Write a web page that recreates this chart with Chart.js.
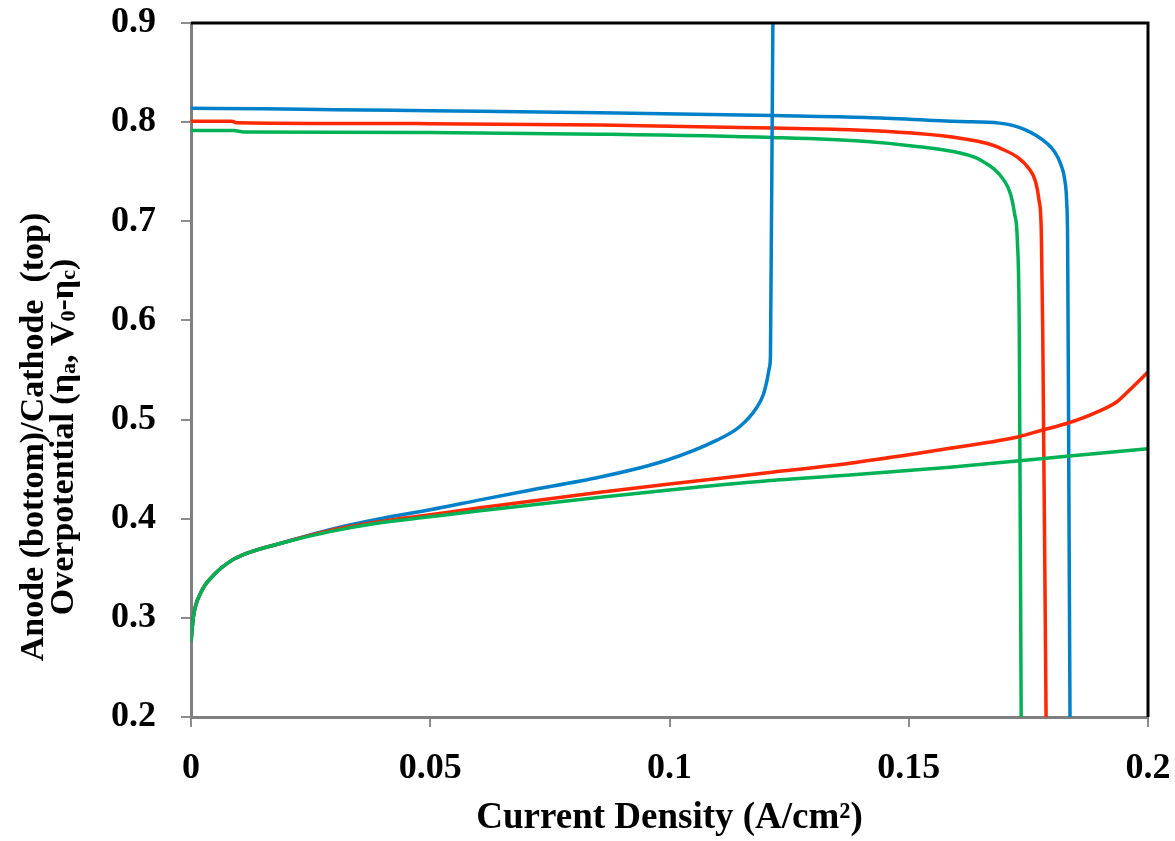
<!DOCTYPE html>
<html>
<head>
<meta charset="utf-8">
<script src="https://cdn.jsdelivr.net/npm/chart.js@4"></script>
<style>
  html, body { margin: 0; padding: 0; background: #fff; }
  #wrap { width: 1175px; height: 841px; }
</style>
</head>
<body>
<div id="wrap"><canvas id="myChart" width="1175" height="841"></canvas></div>
<script>
// tick labels
const xTicks = [0, 0.05, 0.1, 0.15, 0.2];
const yTicks = [0.2, 0.3, 0.4, 0.5, 0.6, 0.7, 0.8, 0.9];

// anode (bottom) curves
const blueAnodeX = [0, 0.0005, 0.002, 0.0047, 0.0082, 0.0116, 0.0186, 0.029, 0.0395, 0.05, 0.0604, 0.07, 0.0855, 0.0994, 0.1098, 0.1147, 0.1182, 0.1196, 0.1204, 0.1209, 0.1211, 0.1216, 0.1218];
const blueAnodeY = [0.276, 0.301, 0.325, 0.343, 0.357, 0.365, 0.375, 0.389, 0.400, 0.409, 0.419, 0.428, 0.442, 0.459, 0.479, 0.493, 0.512, 0.525, 0.540, 0.553, 0.565, 0.90, 0.93];

const redAnodeX = [0, 0.0005, 0.002, 0.0047, 0.0082, 0.0116, 0.0186, 0.029, 0.0395, 0.05, 0.0604, 0.0855, 0.1, 0.12, 0.1377, 0.1507, 0.1586, 0.1732, 0.178, 0.183, 0.1886, 0.1935, 0.1962, 0.2];
const redAnodeY = [0.276, 0.301, 0.325, 0.343, 0.357, 0.365, 0.375, 0.388, 0.397, 0.404, 0.411, 0.4267, 0.435, 0.446, 0.456, 0.465, 0.471, 0.483, 0.4895, 0.496, 0.506, 0.518, 0.530, 0.548];

const greenAnodeX = [0, 0.0005, 0.002, 0.0047, 0.0082, 0.0116, 0.0186, 0.029, 0.0395, 0.05, 0.0604, 0.0855, 0.1, 0.12, 0.1377, 0.1586, 0.1732, 0.183, 0.2];
const greenAnodeY = [0.276, 0.301, 0.325, 0.343, 0.357, 0.365, 0.375, 0.387, 0.396, 0.402, 0.408, 0.4216, 0.429, 0.438, 0.444, 0.452, 0.4585, 0.463, 0.4707];

// cathode (top) curves
const blueCathodeX = [0, 0.015, 0.03, 0.05, 0.0855, 0.1216, 0.1412, 0.1607, 0.169, 0.1745, 0.1788, 0.1805, 0.1818, 0.1826, 0.183, 0.1832, 0.1834, 0.1837, 0.1838];
const blueCathodeY = [0.814, 0.8135, 0.8125, 0.8115, 0.8096, 0.8066, 0.8046, 0.8006, 0.799, 0.792, 0.779, 0.770, 0.757, 0.742, 0.72, 0.68, 0.50, 0.20, 0.15];

const redCathodeX = [0, 0.0085, 0.0095, 0.05, 0.0855, 0.1216, 0.1377, 0.1507, 0.1607, 0.169, 0.1753, 0.1765, 0.1772, 0.1777, 0.178, 0.1787, 0.1788];
const redCathodeY = [0.801, 0.801, 0.7995, 0.7985, 0.797, 0.794, 0.7924, 0.789, 0.7838, 0.774, 0.752, 0.740, 0.722, 0.690, 0.590, 0.20, 0.15];

const greenCathodeX = [0, 0.009, 0.011, 0.05, 0.0855, 0.1216, 0.1412, 0.1507, 0.1607, 0.1649, 0.1701, 0.1713, 0.1721, 0.1727, 0.1731, 0.1735, 0.1736];
const greenCathodeY = [0.7916, 0.7915, 0.790, 0.7895, 0.7879, 0.7845, 0.7805, 0.776, 0.7688, 0.762, 0.740, 0.727, 0.708, 0.680, 0.590, 0.20, 0.15];

const BLUE = 'rgb(0,128,200)';
const RED = 'rgb(255,40,0)';
const GREEN = 'rgb(0,178,85)';
const FONT = "'Liberation Serif', 'Times New Roman', serif";

function pts(xs, ys) {
  return xs.map((x, i) => ({ x: x, y: ys[i] }));
}

function fmt(v) {
  return parseFloat(v.toFixed(3)).toString();
}

function line(data, color, order) {
  return {
    data: data,
    showLine: true,
    borderColor: color,
    backgroundColor: color,
    borderWidth: 3.5,
    pointRadius: 0,
    cubicInterpolationMode: 'monotone',
    fill: false,
    order: order
  };
}

// black frame on top and right, y title with subscripts
const framePlugin = {
  id: 'frame',
  afterDraw(chart) {
    const { ctx, chartArea: a } = chart;
    ctx.save();
    ctx.strokeStyle = '#000';
    ctx.lineWidth = 3;
    ctx.beginPath();
    ctx.moveTo(a.left, a.top);
    ctx.lineTo(a.right, a.top);
    ctx.lineTo(a.right, a.bottom);
    ctx.stroke();
    ctx.restore();

    // y axis title, two lines, rotated
    const big = 'bold 34px ' + FONT;
    const small = 'bold 22px ' + FONT;
    const line1 = [['Anode (bottom)/Cathode  (top)', big, 0]];
    const line2 = [
      ['Overpotential (\u03B7', big, 0], ['a', small, 2],
      [', V', big, 0], ['0', small, 2],
      ['-\u03B7', big, 0], ['c', small, 2],
      [')', big, 0]
    ];
    const cy = 437;
    [[line1, 43], [line2, 73]].forEach(([parts, bx]) => {
      let w = 0;
      parts.forEach(p => { ctx.font = p[1]; w += ctx.measureText(p[0]).width; });
      ctx.save();
      ctx.translate(bx, cy);
      ctx.rotate(-Math.PI / 2);
      ctx.fillStyle = '#000';
      ctx.textBaseline = 'alphabetic';
      ctx.textAlign = 'left';
      let x = -w / 2;
      parts.forEach(p => {
        ctx.font = p[1];
        ctx.fillText(p[0], x, p[2]);
        x += ctx.measureText(p[0]).width;
      });
      ctx.restore();
    });
  }
};

const ctx = document.getElementById('myChart').getContext('2d');
new Chart(ctx, {
  type: 'scatter',
  data: {
    datasets: [
      line(pts(greenAnodeX, greenAnodeY), GREEN, 1),
      line(pts(redAnodeX, redAnodeY), RED, 2),
      line(pts(blueAnodeX, blueAnodeY), BLUE, 3),
      line(pts(greenCathodeX, greenCathodeY), GREEN, 4),
      line(pts(redCathodeX, redCathodeY), RED, 5),
      line(pts(blueCathodeX, blueCathodeY), BLUE, 6)
    ]
  },
  options: {
    responsive: false,
    animation: false,
    layout: { padding: { top: 23, right: 27, left: 0, bottom: 0 } },
    plugins: {
      legend: { display: false },
      tooltip: { enabled: false }
    },
    scales: {
      x: {
        type: 'linear',
        min: 0,
        max: 0.2,
        afterBuildTicks: s => { s.ticks = xTicks.map(v => ({ value: v })); },
        afterFit: s => { s.height = 124; s.paddingLeft = 0; s.paddingRight = 0; },
        ticks: {
          color: '#000',
          padding: 20,
          font: { family: FONT, size: 36, weight: 'bold' },
          callback: v => fmt(v)
        },
        grid: { drawOnChartArea: false, color: '#8c8c8c', tickLength: 10, lineWidth: 2 },
        border: { color: '#7f7f7f', width: 3 },
        title: {
          display: true,
          text: 'Current Density (A/cm\u00B2)',
          color: '#000',
          font: { family: FONT, size: 37, weight: 'bold' },
          padding: { top: 0, bottom: 0 }
        }
      },
      y: {
        type: 'linear',
        min: 0.2,
        max: 0.9,
        afterBuildTicks: s => { s.ticks = yTicks.map(v => ({ value: v })); },
        afterFit: s => { s.width = 191; s.paddingTop = 0; s.paddingBottom = 0; },
        ticks: {
          color: '#000',
          padding: 25,
          font: { family: FONT, size: 36, weight: 'bold' },
          callback: v => fmt(v)
        },
        grid: { drawOnChartArea: false, color: '#8c8c8c', tickLength: 10, lineWidth: 2 },
        border: { color: '#7f7f7f', width: 3 }
      }
    }
  },
  plugins: [framePlugin]
});
</script>
</body>
</html>
